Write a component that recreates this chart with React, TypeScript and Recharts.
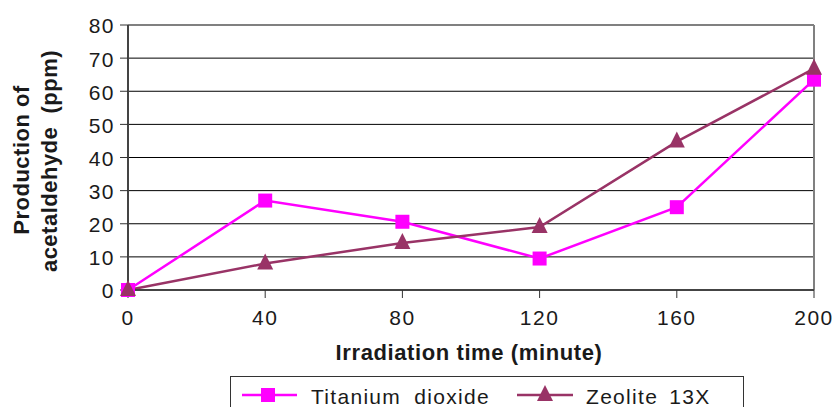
import React from 'react';
import { LineChart, Line, XAxis, YAxis, CartesianGrid, ReferenceLine } from 'recharts';

const times = [0, 40, 80, 120, 160, 200];
const titanium = [0, 27, 20.6, 9.5, 25, 63.5];
const zeolite = [0, 8, 14.2, 19, 44.8, 66.8];
const yTicks = [0, 10, 20, 30, 40, 50, 60, 70, 80];

const data = times.map((t, i) => ({ t, ti: titanium[i], ze: zeolite[i] }));

const FONT = '"Liberation Sans", Arial, sans-serif';
const TI_COLOR = '#FF00FF';
const ZE_COLOR = '#993366';

const tickStyle = { fontSize: 21, fill: '#1a1a1a', fontFamily: FONT, letterSpacing: 1.5 };

const SquareDot = (props: any) => {
    const { cx, cy } = props;
    return <rect x={cx - 7} y={cy - 7} width={14} height={14} fill={TI_COLOR} />;
};

const TriangleDot = (props: any) => {
    const { cx, cy } = props;
    return <path d={`M${cx},${cy - 10} L${cx + 8},${cy + 6} L${cx - 8},${cy + 6} Z`} fill={ZE_COLOR} />;
};

// legend drawn as a plain group, box cut off at the bottom like the original
const LegendBox = () => (
    <g transform="translate(230,376)">
        <rect x={0.5} y={0.5} width={513} height={45} fill="#fff" stroke="#333" strokeWidth={1} />
        <line x1={12} y1={19} x2={67} y2={19} stroke={TI_COLOR} strokeWidth={2.5} />
        <rect x={31} y={12} width={14} height={14} fill={TI_COLOR} />
        <text x={81} y={28} fontSize={21} fontFamily={FONT} fill="#1a1a1a" letterSpacing={1.3} wordSpacing={6}>
            Titanium dioxide
        </text>
        <line x1={287} y1={19} x2={343} y2={19} stroke={ZE_COLOR} strokeWidth={2.5} />
        <path d="M315,9 L323,25 L307,25 Z" fill={ZE_COLOR} />
        <text x={356} y={28} fontSize={21} fontFamily={FONT} fill="#1a1a1a" letterSpacing={1.3} wordSpacing={4}>
            Zeolite 13X
        </text>
    </g>
);

export default function App() {
    return (
        <div style={{ position: 'absolute', left: 0, top: 0, width: 839, height: 407, background: '#fff' }}>
            <LineChart width={839} height={407} data={data} margin={{ top: 25, right: 25, bottom: 77, left: 68 }}>
                <CartesianGrid vertical={false} stroke="#000" strokeWidth={1} />
                <XAxis
                    dataKey="t"
                    type="number"
                    domain={[0, 200]}
                    ticks={times}
                    tick={tickStyle}
                    tickLine={{ stroke: '#333' }}
                    tickSize={8}
                    axisLine={{ stroke: '#444', strokeWidth: 2 }}
                    height={40}
                    dy={10}
                />
                <YAxis
                    type="number"
                    domain={[0, 80]}
                    ticks={yTicks}
                    tick={tickStyle}
                    tickLine={{ stroke: '#333' }}
                    tickSize={8}
                    axisLine={{ stroke: '#444', strokeWidth: 2 }}
                    width={60}
                    dx={-3}
                    dy={1}
                />
                <ReferenceLine y={80} stroke="#808080" strokeWidth={2} />
                <ReferenceLine x={200} stroke="#808080" strokeWidth={2} />
                <Line
                    dataKey="ti"
                    stroke={TI_COLOR}
                    strokeWidth={2.5}
                    dot={<SquareDot />}
                    isAnimationActive={false}
                    name="Titanium dioxide"
                />
                <Line
                    dataKey="ze"
                    stroke={ZE_COLOR}
                    strokeWidth={2.5}
                    dot={<TriangleDot />}
                    isAnimationActive={false}
                    name="Zeolite 13X"
                />
                <LegendBox />
                <text x={469} y={360} textAnchor="middle" fontSize={22} fontWeight="bold" fontFamily={FONT} fill="#1a1a1a" letterSpacing={0.6}>
                    Irradiation time (minute)
                </text>
                <text
                    transform="translate(29,160) rotate(-90)"
                    textAnchor="middle"
                    fontSize={22}
                    fontWeight="bold"
                    fontFamily={FONT}
                    fill="#1a1a1a"
                    letterSpacing={0.5}
                >
                    Production of
                </text>
                <text
                    transform="translate(57,161) rotate(-90)"
                    textAnchor="middle"
                    fontSize={22}
                    fontWeight="bold"
                    fontFamily={FONT}
                    fill="#1a1a1a"
                    letterSpacing={0.5}
                    style={{ whiteSpace: 'pre' }}
                >
                    {'acetaldehyde  (ppm)'}
                </text>
            </LineChart>
        </div>
    );
}
